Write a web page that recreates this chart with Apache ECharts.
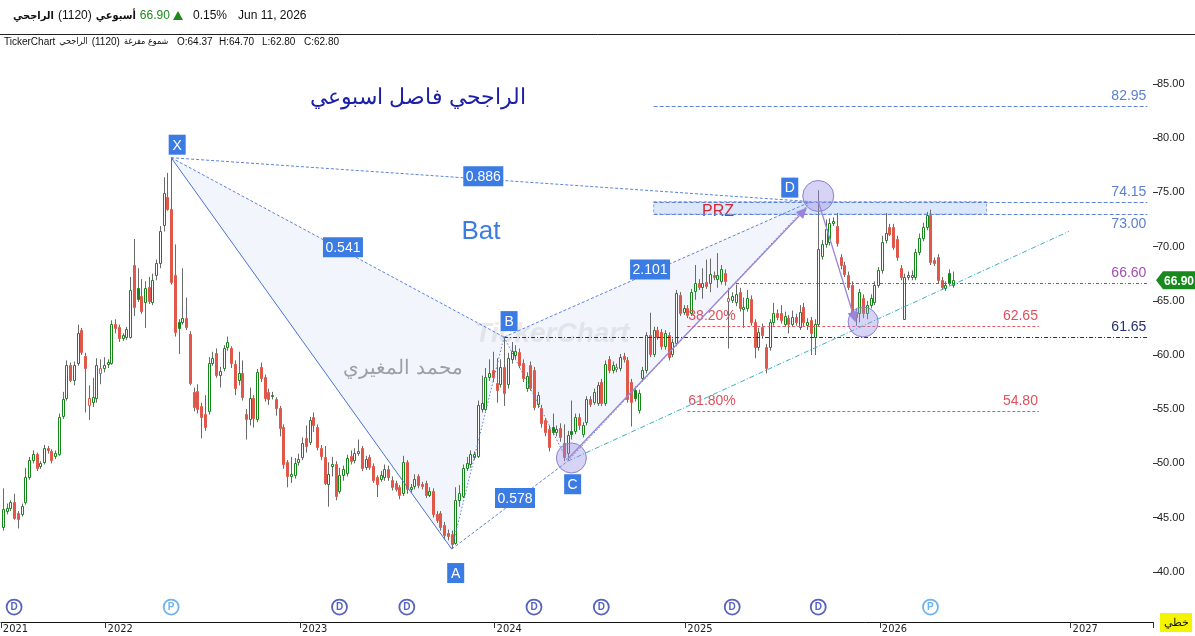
<!DOCTYPE html>
<html><head><meta charset="utf-8">
<script src="https://cdn.jsdelivr.net/npm/echarts/dist/echarts.min.js"></script>
<style>html,body{margin:0;padding:0;background:#fff}#c{width:1195px;height:636px}</style>
</head><body><div id="c"></div>
<script>
// ---------------- DATA ----------------
// weekly candles: [open, close, low, high]
const ohlc = [
[44.1,45.8,43.8,47.7],[45.6,45.9,45.3,46.3],[45.9,46.4,45.6,46.6],[46.4,45.0,44.8,47.2],[45.4,44.9,44.0,45.6],
[45.3,46.1,45.1,46.3],[46.4,48.7,46.2,49.6],[48.7,50.3,48.5,50.6],[50.3,50.9,50.0,51.2],[50.9,49.6,49.3,51.0],
[49.8,50.0,49.5,50.2],[50.1,51.4,49.9,51.7],[51.4,51.2,50.9,51.6],[51.1,50.3,50.0,51.3],[50.7,51.0,50.4,51.2],
[50.9,54.3,50.7,54.6],[54.4,55.9,54.1,56.6],[56.0,59.1,55.8,59.5],[59.1,57.7,57.5,59.3],[57.7,59.1,57.2,59.4],
[59.3,62.0,59.0,62.8],[62.3,60.3,60.0,62.5],[59.9,58.8,54.7,60.2],[55.4,56.0,54.0,57.2],[55.7,56.1,55.2,57.9],
[56.0,59.1,55.6,59.7],[58.3,58.8,57.3,59.6],[58.8,59.1,58.4,59.8],[59.2,59.4,58.8,59.6],[59.3,62.9,59.1,63.2],
[62.9,62.5,62.0,63.3],[62.6,61.6,61.2,62.8],[61.6,61.8,61.3,62.0],[61.7,62.4,61.4,62.6],[61.7,66.0,61.5,67.2],
[68.3,64.4,63.6,70.7],[66.2,65.2,64.9,68.0],[65.4,64.1,63.8,67.0],[64.9,66.2,62.5,66.8],[66.3,65.0,64.7,67.2],
[64.9,66.9,64.6,67.5],[67.4,68.5,66.9,68.8],[68.5,71.4,68.0,71.9],[72.0,74.9,71.4,76.4],[74.6,73.5,73.3,76.8],
[73.5,66.7,66.5,78.2],[67.4,62.1,61.7,70.2],[63.0,62.5,60.1,63.3],[63.0,63.4,62.8,68.0],[63.4,62.6,62.3,65.3],
[61.9,57.4,57.2,62.2],[56.6,55.2,54.8,57.0],[56.7,55.0,54.6,57.3],[55.3,54.3,52.3,55.6],[54.6,53.4,53.0,56.3],
[54.8,59.3,54.5,59.8],[59.3,59.7,59.0,60.3],[60.2,58.2,57.9,60.6],[58.2,58.5,57.0,58.9],[58.8,60.6,58.5,60.9],
[60.7,61.2,60.4,61.7],[60.6,59.3,58.8,60.8],[59.2,57.0,56.3,59.5],[57.7,58.3,57.2,60.3],[58.3,56.1,55.8,59.5],
[54.6,54.1,52.2,55.0],[54.1,56.0,53.5,57.0],[56.0,54.2,53.3,56.3],[54.1,58.4,53.8,58.7],[58.9,57.9,57.5,59.3],
[58.0,56.0,55.7,58.2],[56.6,55.9,55.4,56.9],[56.2,56.3,55.9,56.6],[55.9,55.1,54.4,56.1],[55.1,53.3,52.5,55.3],
[53.4,49.9,49.5,53.6],[50.1,48.8,47.8,50.3],[48.8,49.0,48.2,50.6],[48.9,50.0,48.6,50.5],[50.1,50.4,49.8,50.9],
[50.6,51.9,50.3,52.4],[52.3,51.6,51.0,53.5],[52.0,54.0,51.7,54.3],[54.3,53.5,52.9,54.7],[53.4,51.5,51.2,53.6],
[51.4,50.7,50.3,51.7],[50.6,48.2,48.0,51.6],[48.1,49.0,46.0,50.1],[49.8,49.9,48.8,50.6],[49.9,47.0,46.6,50.2],
[47.5,48.9,47.2,49.6],[48.9,49.5,48.4,49.8],[49.1,50.5,48.8,50.8],[50.7,50.2,49.9,51.2],[50.3,51.0,50.0,51.4],
[51.0,51.1,50.7,52.2],[51.4,49.6,49.3,51.6],[49.7,50.4,49.4,50.7],[50.6,49.7,49.4,50.8],[49.8,48.5,48.2,50.0],
[48.7,48.1,46.9,48.9],[48.6,48.9,48.3,49.3],[48.7,49.5,48.4,49.9],[49.5,48.7,48.4,49.8],[48.5,47.8,47.5,48.8],
[48.2,47.6,47.4,48.4],[47.8,47.1,46.7,48.0],[47.3,50.1,47.0,50.7],[50.1,47.6,47.2,50.3],[47.6,47.8,47.3,48.1],
[47.9,48.6,47.6,49.0],[48.8,48.0,47.7,49.0],[48.1,47.9,47.6,48.3],[48.2,47.1,46.8,48.4],[47.1,47.5,46.9,47.8],
[47.5,45.3,45.0,47.7],[45.3,44.8,44.5,45.6],[45.4,44.1,43.8,45.6],[44.3,43.4,43.0,44.6],[43.6,43.3,42.9,43.9],
[43.5,42.6,42.1,43.8],[42.7,46.6,42.5,47.8],[46.6,47.3,46.0,48.0],[47.0,49.6,46.8,49.9],[49.6,50.0,49.3,50.6],
[49.9,50.9,49.6,51.2],[50.6,50.9,50.3,51.1],[50.7,55.4,50.5,55.8],[55.0,55.6,54.7,58.1],[55.0,58.0,54.8,58.8],
[58.0,58.3,57.6,59.6],[58.6,58.0,57.5,60.3],[57.4,56.8,55.6,59.7],[57.3,58.9,57.0,59.6],[58.9,56.5,55.3,61.65],
[57.3,59.7,56.9,60.2],[59.6,60.4,59.2,61.2],[60.0,60.4,59.6,60.9],[60.3,59.1,58.8,60.6],[59.3,57.9,57.5,59.6],
[57.0,58.1,56.6,58.4],[59.1,57.0,56.7,59.4],[58.6,55.2,54.9,58.9],[55.5,56.3,55.1,56.6],[55.1,53.7,53.3,55.4],
[54.0,52.9,52.5,54.2],[53.2,51.5,51.1,53.5],[53.4,52.9,52.6,54.6],[52.9,53.2,52.5,53.5],[53.3,52.4,52.0,53.7],
[51.9,50.6,50.2,53.6],[51.0,52.6,50.3,53.0],[53.0,52.7,52.2,55.8],[53.0,54.3,52.7,54.6],[54.3,53.5,53.1,54.6],
[52.7,53.5,52.4,53.8],[53.8,55.9,53.5,56.2],[55.9,55.5,55.2,56.2],[55.7,56.6,55.4,56.9],[55.6,57.2,55.3,57.5],
[57.5,55.6,55.3,57.8],[55.6,59.2,55.3,59.5],[59.6,58.6,58.3,59.9],[58.6,59.1,58.3,59.4],[58.7,58.9,58.4,59.2],
[58.8,59.8,58.5,60.1],[59.9,59.6,59.3,60.2],[59.5,55.9,55.6,59.8],[57.5,55.7,53.4,57.8],[56.8,56.0,55.7,57.1],
[54.9,56.5,54.6,56.8],[57.9,58.6,57.6,58.9],[58.6,61.8,58.3,62.1],[61.8,60.1,59.8,63.9],[60.1,62.3,59.8,62.6],
[62.3,61.7,61.4,62.6],[62.1,60.8,60.5,62.4],[60.8,62.0,60.5,62.3],[61.8,59.8,59.5,62.1],[60.1,61.2,59.8,61.5],
[61.1,65.7,60.8,66.0],[65.5,63.9,63.6,65.8],[64.0,64.3,63.7,64.6],[64.3,63.7,63.4,64.6],[63.9,65.8,63.6,66.1],
[65.9,66.6,65.1,68.3],[66.6,66.3,66.0,67.0],[66.3,66.6,65.2,68.0],[66.7,66.4,66.1,68.8],[66.6,67.5,65.8,68.9],
[67.4,67.2,66.9,67.7],[67.0,67.4,66.2,69.4],[66.8,67.9,66.5,68.3],[67.6,66.8,66.4,67.9],[65.0,65.3,60.6,66.2],
[65.1,65.4,64.8,65.8],[64.9,65.6,64.5,66.5],[65.8,64.3,64.0,66.2],[64.2,64.4,62.5,65.3],[64.3,65.3,64.0,66.0],
[65.2,63.0,62.7,65.5],[63.0,60.7,59.7,63.3],[60.7,62.1,60.4,62.5],[62.6,61.8,61.5,62.9],[60.7,58.8,58.3,61.0],
[60.7,63.0,60.4,63.3],[63.0,63.9,62.7,64.8],[63.9,63.5,63.2,64.2],[63.9,63.2,62.9,64.6],[62.9,63.6,62.6,64.0],
[63.4,62.9,62.0,63.7],[62.9,63.5,62.6,64.1],[63.5,63.0,62.7,63.8],[62.6,64.0,62.3,64.6],[64.4,63.0,62.6,64.8],
[62.8,63.0,62.3,63.4],[63.2,62.0,60.0,63.5],[61.7,62.9,60.0,63.3],[62.9,69.8,62.6,75.2],[69.1,70.2,68.8,70.6],
[70.2,71.6,69.9,72.5],[70.4,72.2,70.1,72.6],[72.2,72.4,71.9,72.7],[71.9,70.3,70.0,73.1],[69.0,68.3,67.9,69.3],
[68.3,67.5,67.2,68.6],[67.4,66.3,66.0,67.7],[66.5,63.9,63.6,66.8],[64.0,63.5,62.7,64.3],[63.9,65.8,63.0,66.1],
[65.3,63.9,63.4,65.6],[63.9,64.6,63.3,65.0],[64.6,65.3,64.3,65.6],[64.9,66.5,64.6,66.8],[66.5,67.8,66.2,68.1],
[67.8,70.4,67.5,71.0],[70.6,71.3,70.3,73.1],[71.8,71.2,71.0,72.1],[71.8,70.0,69.7,72.1],[70.7,69.0,68.7,71.0],
[68.0,67.2,66.9,68.3],[63.3,67.2,63.3,67.5],[67.2,67.4,66.9,67.7],[67.2,67.4,66.9,67.8],[67.2,69.5,66.9,69.8],
[69.5,70.8,69.2,71.2],[70.8,71.8,70.5,72.2],[71.8,72.9,71.5,73.2],[72.9,68.6,68.3,73.4],[68.8,68.5,68.2,69.0],
[69.0,66.9,66.6,69.3],[66.9,66.3,66.0,67.2],[66.2,66.5,65.9,66.8],[67.6,66.6,66.4,67.9],[66.5,66.9,66.2,67.7]
];
const N_CAT = 308;                       // weekly slots incl. empty future weeks
const yearLabels  = ['2021','2022','2023','2024','2025','2026','2027'];
const yearTickIdx = [0, 28, 80, 132, 183, 235, 286];

// harmonic Bat pattern
const pointNames = ['X','A','B','C','D'];
const pointIdx   = [45, 120, 134, 151, 216];
const pointPrice = [78.2, 42.1, 61.65, 50.2, 74.15];
const patternLegs = [[0,1,'solid'],[1,2,'dot'],[2,3,'dot'],[3,4,'dot'],[0,2,'dash'],[1,3,'dash'],[2,4,'dash'],[0,4,'dash']];
const ratioLabels = ['0.541','0.578','2.101','0.886'];
const ratioLegs   = [[0,2],[1,3],[2,4],[0,4]];

// horizontal levels
const levelValues = [82.95, 74.15, 73.00, 66.60, 62.65, 61.65, 54.80];
const levelStart  = [174, 174, 174, 196, 183, 134, 183];
const levelEnd    = [306, 306, 306, 306, 277, 306, 277];
const fibLabels   = ['', '', '', '', '38.20%', '', '61.80%'];
const przIdx   = [174, 263];
const przPrice = [73.00, 74.15];
const trendIdx   = [151, 285];
const trendPrice = [50.2, 71.4];
const arrowIdx   = [[151, 215], [218, 228]];
const arrowPrice = [[50.4, 73.6], [74.2, 63.0]];
const circleIdx   = [218, 152, 230];
const circlePrice = [74.67, 50.5, 63.05];
const eventIdx  = [3, 45, 90, 108, 142, 160, 195, 218, 248];
const eventType = ['D','P','D','D','D','D','D','D','P'];
const lastClose = 66.90;

// header texts
const headerRow1 = ['الراجحي', '(1120)', 'أسبوعي', '66.90', '▲', '0.15%', 'Jun 11, 2026'];
const headerRow2 = ['TickerChart', 'الراجحي', '(1120)', 'شموع مفرغة', 'O:64.37', 'H:64.70', 'L:62.80', 'C:62.80'];

// ---------------- STYLE ----------------
const GREEN = '#16861a', RED = '#e0584a', WICK = '#6a6a6a';
const BOX = '#3b7be4';
const FONT = "'Liberation Sans', Arial, sans-serif";
const ARFONT = "'DejaVu Sans Condensed', 'DejaVu Sans', sans-serif";
const LEVEL_STYLE = [
  {color:'#5f84da', label:'#5b7fd0', dash:[4,2], below:false},
  {color:'#5f84da', label:'#5b7fd0', dash:[4,2], below:false},
  {color:'#5f84da', label:'#5b7fd0', dash:[4,2], below:true},
  {color:'#a03aa8', label:'#a24fb0', dash:[3,2,1,2], below:false},
  {color:'#e35a66', label:'#e0505c', dash:[3,2], below:false},
  {color:'#22306e', label:'#22306e', dash:[4,2,1,2], below:false},
  {color:'#e35a66', label:'#e0505c', dash:[3,2], below:false}
];
const RATIO_T = [0.516, 0.546, 0.476, 0.488];
const POINT_OFF = [[6,-13],[4,24],[5,-16],[5,23],[-21,-14]];
const EVENT_ROW = 36.75;
const ROW1_X = [13, 50, 92, 137, 173, 193, 238];
const ROW1_FONT = ["bold 11px " + ARFONT, "12px " + FONT, "bold 11px " + ARFONT, "12px " + FONT, "11px " + FONT, "12px " + FONT, "12px " + FONT];
const ROW1_COL = ['#111','#111','#111','#1e8a1e','#1e8a1e','#111','#111'];
const ROW2_X = [4, 59, 89, 122, 177, 219, 262, 304];
const ROW2_FONT = ["10px " + FONT, "9px " + ARFONT, "10px " + FONT, "9px " + ARFONT, "10px " + FONT, "10px " + FONT, "10px " + FONT, "10px " + FONT];

// ---------------- CHART ----------------
const chart = echarts.init(document.getElementById('c'), null, {width:1195, height:636});
const categories = Array.from({length:N_CAT}, (_, i) => 'w' + i);

const mctx = document.createElement('canvas').getContext('2d');
function layoutRow(texts, xs, fonts, cols, y) {
  let end = -1e9;
  return texts.map((t, i) => {
    mctx.font = fonts[i];
    const w = mctx.measureText(t).width;
    const x = Math.max(xs[i], end + 4);
    end = x + w;
    return {type:'text', x, y, style:{text:t, font:fonts[i], fill: cols ? cols[i] : '#111', textAlign:'left', align:'left', textVerticalAlign:'middle', verticalAlign:'middle'}};
  });
}

function candleItem(params, api) {
  const i = params.dataIndex;
  const d = ohlc[i];
  const pc = i > 0 ? ohlc[i-1][1] : d[0];
  const col = d[1] >= pc ? GREEN : RED;
  const hollow = d[1] > d[0];
  const pO = api.coord([i, d[0]]), pC = api.coord([i, d[1]]);
  const pL = api.coord([i, d[2]]), pH = api.coord([i, d[3]]);
  const n = Math.round(pO[0]);
  const top = Math.round(Math.min(pO[1], pC[1])) + 0.5;
  const bot = Math.round(Math.max(pO[1], pC[1])) + 0.5;
  const h = Math.max(bot - top, 1);
  return {type:'group', children:[
    {type:'line', shape:{x1:n+0.5, y1:pH[1], x2:n+0.5, y2:pL[1]}, style:{stroke:WICK, lineWidth:1}},
    {type:'rect', shape:{x:n-0.5, y:top, width:2, height:h},
     style:{fill: hollow ? '#ffffff' : col, stroke: col, lineWidth:1}}
  ]};
}

function txt(text, x, y, fill, font, align, valign) {
  return {type:'text', style:{text, x, y, fill, font, textAlign:align, align, textVerticalAlign:valign, verticalAlign:valign}};
}

function annoBack(params, api) {
  const P = pointIdx.map((k, i) => api.coord([k, pointPrice[i]]));
  const fill = 'rgba(205,218,245,0.25)';
  const r0 = api.coord([przIdx[0], przPrice[1]]), r1 = api.coord([przIdx[1], przPrice[0]]);
  return {type:'group', children:[
    {type:'polygon', shape:{points:[P[0],P[1],P[2]]}, style:{fill}},
    {type:'polygon', shape:{points:[P[2],P[3],P[4]]}, style:{fill}},
    {type:'rect', shape:{x:r0[0], y:r0[1], width:r1[0]-r0[0], height:r1[1]-r0[1]},
     style:{fill:'rgba(190,212,248,0.55)', stroke:'#8aa6e4', lineWidth:1, lineDash:[3,2]}},
    txt('PRZ', (r0[0]+r1[0])/2 - 102, (r0[1]+r1[1])/2 + 4, '#d42a36', "16px " + FONT, 'center', 'middle'),
    {type:'text', style:{text:'TickerChart', x:552, y:334, fill:'rgba(175,175,175,0.25)', font:"bold italic 28px " + FONT, textAlign:'center', align:'center', textVerticalAlign:'middle', verticalAlign:'middle'}}
  ]};
}

function arrow(a, b, color) {
  const dx = b[0]-a[0], dy = b[1]-a[1], L = Math.hypot(dx, dy);
  const ux = dx/L, uy = dy/L, len = 11, hw = 5;
  const base = [b[0]-ux*len, b[1]-uy*len];
  return [
    {type:'line', shape:{x1:a[0], y1:a[1], x2:base[0], y2:base[1]}, style:{stroke:color, lineWidth:1.3}},
    {type:'polygon', shape:{points:[b, [base[0]-uy*hw, base[1]+ux*hw], [base[0]+uy*hw, base[1]-ux*hw]]}, style:{fill:color}}
  ];
}

function annoFront(params, api) {
  const ch = [];
  const P = pointIdx.map((k, i) => api.coord([k, pointPrice[i]]));
  levelValues.forEach((v, i) => {
    const a = api.coord([levelStart[i], v]), b = api.coord([levelEnd[i], v]);
    const s = LEVEL_STYLE[i];
    const y = Math.round(a[1]) + 0.5;
    ch.push({type:'line', shape:{x1:a[0], y1:y, x2:b[0], y2:y}, style:{stroke:s.color, lineWidth:1, lineDash:s.dash}});
    ch.push(txt(v.toFixed(2), b[0]-1, s.below ? y+3 : y-3, s.label, "14px " + FONT, 'right', s.below ? 'top' : 'bottom'));
    if (fibLabels[i]) ch.push(txt(fibLabels[i], a[0]+1, y-3, s.label, "14px " + FONT, 'left', 'bottom'));
  });
  const t0 = api.coord([trendIdx[0], trendPrice[0]]), t1 = api.coord([trendIdx[1], trendPrice[1]]);
  ch.push({type:'line', shape:{x1:t0[0], y1:t0[1], x2:t1[0], y2:t1[1]}, style:{stroke:'#35b2c4', lineWidth:1, lineDash:[5,2,1,2]}});
  patternLegs.forEach(([i, j, kind]) => {
    ch.push({type:'line', shape:{x1:P[i][0], y1:P[i][1], x2:P[j][0], y2:P[j][1]},
      style:{stroke: kind === 'solid' ? '#4a72d4' : '#5c82dc', lineWidth:1,
             lineDash: kind === 'solid' ? null : (kind === 'dot' ? [1.5,2] : [3,2])}});
  });
  arrowIdx.forEach((ks, n) => {
    const a = api.coord([ks[0], arrowPrice[n][0]]), b = api.coord([ks[1], arrowPrice[n][1]]);
    arrow(a, b, '#9b84d8').forEach(e => ch.push(e));
  });
  circleIdx.forEach((k, n) => {
    const c = api.coord([k, circlePrice[n]]);
    ch.push({type:'circle', shape:{cx:c[0], cy:c[1], r: n === 0 ? 15.5 : 15},
      style:{fill:'rgba(150,140,225,0.38)', stroke:'#8b80d4', lineWidth:1}});
  });
  ratioLegs.forEach(([i, j], n) => {
    const t = RATIO_T[n];
    const x = P[i][0] + (P[j][0]-P[i][0])*t, y = P[i][1] + (P[j][1]-P[i][1])*t - 3;
    ch.push({type:'rect', shape:{x:x-20, y:y-10, width:40, height:20}, style:{fill:BOX}});
    ch.push(txt(ratioLabels[n], x, y+1, '#ffffff', "14px " + FONT, 'center', 'middle'));
  });
  P.forEach((p, n) => {
    const x = p[0] + POINT_OFF[n][0], y = p[1] + POINT_OFF[n][1];
    ch.push({type:'rect', shape:{x:x-8.5, y:y-10, width:17, height:20}, style:{fill:BOX}});
    ch.push(txt(pointNames[n], x, y+1, '#ffffff', "14px " + FONT, 'center', 'middle'));
  });
  const ly = api.coord([0, lastClose])[1];
  ch.push({type:'polygon', shape:{points:[[1156,ly],[1163,ly-9],[1195,ly-9],[1195,ly+9],[1163,ly+9]]}, style:{fill:'#18891c'}});
  ch.push(txt(lastClose.toFixed(2), 1179, ly+1, '#ffffff', "bold 12px " + FONT, 'center', 'middle'));
  return {type:'group', children:ch};
}

function gt(text, x, y, font, fill, align) {
  return {type:'text', x, y, style:{text, font, fill, textAlign:align || 'left', align:align || 'left', textVerticalAlign:'middle', verticalAlign:'middle'}};
}

const option = {
  animation: false,
  backgroundColor: '#ffffff',
  grid: {left:1, right:42, top:29.8, bottom:10, containLabel:false, outerBoundsMode:'none'},
  xAxis: {
    type:'category', data:categories, boundaryGap:true, offset:-4,
    axisLine:{show:true, lineStyle:{color:'#111', width:1}},
    axisTick:{show:true, interval:(i) => yearTickIdx.includes(i), length:6, lineStyle:{color:'#333'}},
    axisLabel:{interval:(i) => yearTickIdx.includes(i),
      formatter:(v, i) => { const n = yearTickIdx.indexOf(i); return n >= 0 ? yearLabels[n] : ''; },
      align:'left', margin:2, fontSize:11, color:'#222',
      fontFamily:"'Liberation Sans Narrow', 'DejaVu Sans Condensed', sans-serif"},
    splitLine:{show:false}
  },
  yAxis: {
    type:'value', position:'right', min:35, max:90, interval:5,
    axisLine:{show:false},
    axisTick:{show:true, length:5, lineStyle:{color:'#333'}},
    axisLabel:{showMinLabel:false, showMaxLabel:false, formatter:(v) => v.toFixed(2),
      margin:4, fontSize:11, color:'#222', fontFamily:FONT},
    splitLine:{show:false}
  },
  graphic: [
    {type:'line', shape:{x1:0, y1:34.5, x2:1195, y2:34.5}, style:{stroke:'#222', lineWidth:1}},
    ...layoutRow(headerRow1.map(t => t === '▲' ? '' : t), ROW1_X, ROW1_FONT, ROW1_COL, 16),
    {type:'polygon', shape:{points:[[173,20],[183,20],[178,11]]}, style:{fill:'#1e8a1e'}},
    ...layoutRow(headerRow2, ROW2_X, ROW2_FONT, null, 42),
    gt('الراجحي فاصل اسبوعي', 418, 98, "22px " + FONT, '#1c20a6', 'center'),
    gt('Bat', 481, 232, "26px " + FONT, '#3c7ce0', 'center'),
    gt('محمد المغيري', 403, 368, "20px " + FONT, '#8c8c8c', 'center'),
    {type:'rect', shape:{x:1160, y:613, width:32, height:19}, style:{fill:'#f4f400'}},
    gt('خطي', 1176, 623, "11px " + FONT, '#111', 'center')
  ],
  series: [
    {type:'custom', name:'annoBack', z:1, silent:true, renderItem:annoBack, data:[[0, 60]], encode:{x:0, y:1}, clip:false},
    {type:'custom', name:'candles', z:2, silent:true, renderItem:candleItem,
     data: ohlc.map((d, i) => [i, d[0], d[1], d[2], d[3]]), encode:{x:0, y:[1,2,3,4]}},
    {type:'custom', name:'annoFront', z:3, silent:true, renderItem:annoFront, data:[[0, 60]], encode:{x:0, y:1}, clip:false},
    {type:'scatter', name:'events', z:4, silent:true, symbol:'circle', symbolSize:15,
     data: eventIdx.map((k, i) => ({
       value:[k, EVENT_ROW],
       itemStyle:{color:'#ffffff', borderColor: eventType[i] === 'D' ? '#2b3bb0' : '#4aa0e8', borderWidth:1.8},
       label:{color: eventType[i] === 'D' ? '#2b3bb0' : '#4aa0e8'}
     })),
     label:{show:true, position:'inside', formatter:(p) => eventType[p.dataIndex], fontSize:10, fontWeight:'bold', fontFamily:FONT}}
  ]
};
chart.setOption(option);
</script>
</body></html>
